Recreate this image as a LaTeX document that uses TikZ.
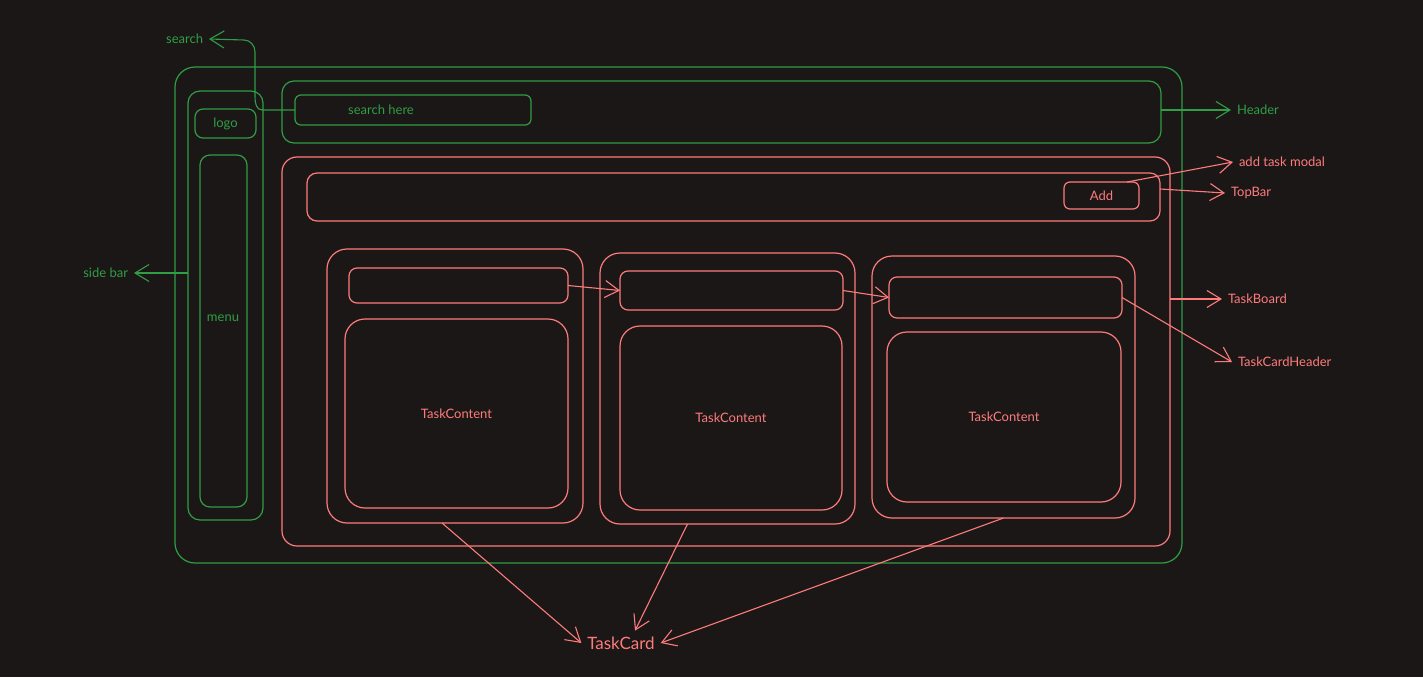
\documentclass[tikz,border=0pt]{standalone}
\usepackage{fontspec}
\setmainfont{Lato}
\usetikzlibrary{arrows.meta}
\usepackage{xcolor}
\definecolor{bg}{HTML}{1B1717}
\definecolor{grn}{HTML}{2F9E44}
\definecolor{rd}{HTML}{FF7B7B}

\begin{document}
\begin{tikzpicture}[x=1pt, y=-1pt,
  >={Straight Barb[length=14pt,width=17pt]},
  box/.style={draw, line width=1.2pt, inner sep=0, outer sep=0, anchor=north west},
  gbox/.style={box, grn, text=grn, font=\fontsize{13}{15}\selectfont},
  rbox/.style={box, rd, text=rd, font=\fontsize{13}{15}\selectfont},
  glbl/.style={text=grn, font=\fontsize{13}{15}\selectfont, inner sep=2pt, outer sep=4pt},
  rlbl/.style={text=rd, font=\fontsize{13}{15}\selectfont, inner sep=2pt, outer sep=4pt},
  garrow/.style={grn, line width=1.1pt, ->},
  rarrow/.style={rd, line width=1.1pt, ->}]
\fill[bg] (0,0) rectangle (1423,677);
\useasboundingbox (0,0) rectangle (1423,677);
% layout frame, sidebar, header
\node[gbox, minimum width=1007pt, minimum height=496pt, rounded corners=20pt] (frame) at (175,67) {};
\node[gbox, minimum width=75pt, minimum height=429pt, rounded corners=12pt] (sidebar) at (188,91) {};
\node[gbox, minimum width=61pt, minimum height=29pt, rounded corners=8pt] (logo) at (195,109) {logo};
\node[gbox, minimum width=47pt, minimum height=352pt, rounded corners=10pt] (menu) at (200,155) {};
\node[text=grn, font=\fontsize{13}{15}\selectfont] (menutxt) at (223,318) {menu};
\node[gbox, minimum width=879pt, minimum height=62pt, rounded corners=12pt] (header) at (282,81) {};
\node[gbox, minimum width=236pt, minimum height=30pt, rounded corners=6pt] (search) at (295,95) {};
\node[text=grn, font=\fontsize{13}{15}\selectfont] (searchtxt) at (381,110) {search here};
% task board
\node[rbox, minimum width=888pt, minimum height=389pt, rounded corners=15pt] (board) at (282,157) {};
\node[rbox, minimum width=853pt, minimum height=48pt, rounded corners=10pt] (topbar) at (307,173) {};
\node[rbox, minimum width=75pt, minimum height=27pt, rounded corners=6pt] (add) at (1064,182) {Add};
% task cards
\node[rbox, minimum width=256pt, minimum height=274pt, rounded corners=20pt] (card1) at (327,249) {};
\node[rbox, minimum width=219pt, minimum height=35pt, rounded corners=8pt] (hdr1) at (349,268) {};
\node[rbox, minimum width=223pt, minimum height=189pt, rounded corners=20pt] (body1) at (345,319) {TaskContent};
\node[rbox, minimum width=255pt, minimum height=271pt, rounded corners=20pt] (card2) at (600,253) {};
\node[rbox, minimum width=223pt, minimum height=39pt, rounded corners=8pt] (hdr2) at (620,271) {};
\node[rbox, minimum width=222pt, minimum height=184pt, rounded corners=20pt] (body2) at (620,326) {TaskContent};
\node[rbox, minimum width=263pt, minimum height=262pt, rounded corners=20pt] (card3) at (872,256) {};
\node[rbox, minimum width=233pt, minimum height=41pt, rounded corners=8pt] (hdr3) at (889,277) {};
\node[rbox, minimum width=234pt, minimum height=170pt, rounded corners=20pt] (body3) at (887,332) {TaskContent};
% labels
\node[glbl, anchor=east] (srchlbl) at (209,39) {search};
\node[glbl, anchor=east] (sidelbl) at (134,273) {side bar};
\node[glbl, anchor=west] (hdrlbl) at (1231,110) {Header};
\node[rlbl, anchor=west] (addlbl) at (1233,162) {add task modal};
\node[rlbl, anchor=west] (toplbl) at (1225,193) {TopBar};
\node[rlbl, anchor=west] (boardlbl) at (1222,299) {TaskBoard};
\node[rlbl, anchor=west] (chlbl) at (1232,362) {TaskCardHeader};
\node[text=rd, font=\fontsize{17}{20}\selectfont, inner sep=2pt, outer sep=4pt] (tclbl) at (621,643) {TaskCard};
% green arrows
\draw[garrow] (search.west) -- (262,110) to[out=180,in=-90] (255,97) -- (255,52) to[out=90,in=0] (244,40) -- (srchlbl.east);
\draw[garrow] (sidebar.west |- sidelbl.east) -- (sidelbl.east);
\draw[garrow] (header.east |- hdrlbl.west) -- (hdrlbl.west);
% red arrows
\draw[rarrow] ([xshift=-12pt]add.north east) -- (addlbl.west);
\draw[rarrow] ([yshift=8pt]topbar.east) -- (toplbl.west);
\draw[rarrow] (board.east |- boardlbl.west) -- (boardlbl.west);
\draw[rarrow] (hdr1.east) -- (hdr2.west);
\draw[rarrow] (hdr2.east) -- (hdr3.west);
\draw[rarrow] (hdr3.east) -- (chlbl.west);
\draw[rarrow] ([xshift=-13pt]card1.south) -- (tclbl.west);
\draw[rarrow] ([xshift=-40pt]card2.south) -- ([xshift=14pt]tclbl.north);
\draw[rarrow] (card3.south) -- (tclbl.east);
\end{tikzpicture}
\end{document}
